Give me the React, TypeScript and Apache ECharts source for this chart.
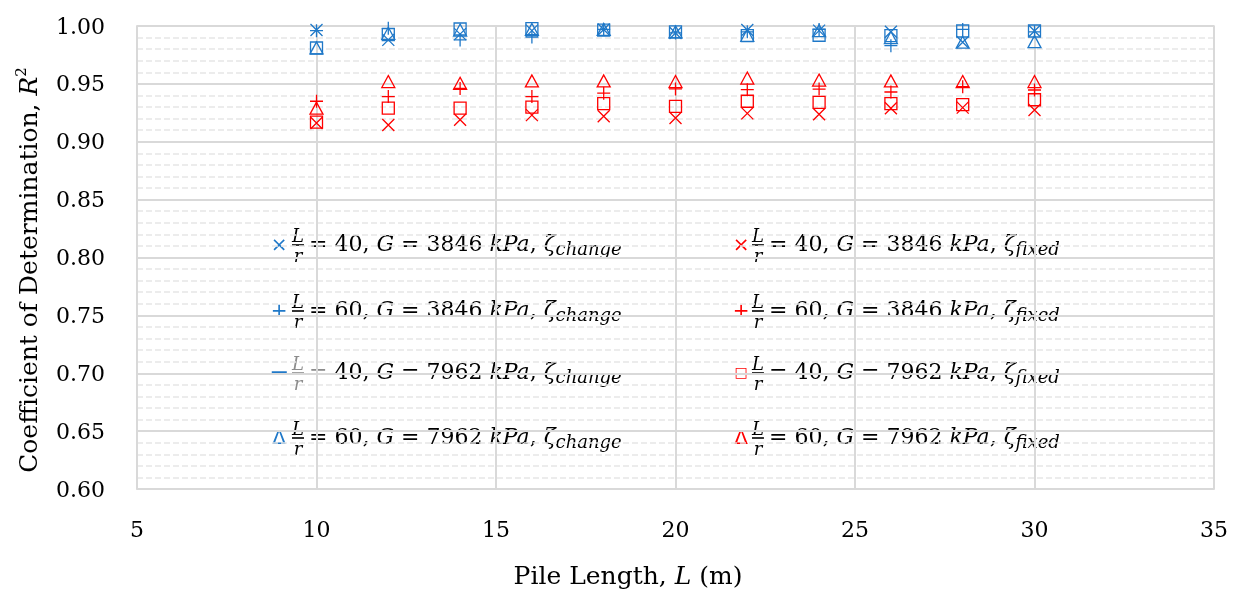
import React, { useEffect, useRef } from 'react';
import * as echarts from 'echarts';

// ---------- data ----------
const pileLength = [10, 12, 14, 16, 18, 20, 22, 24, 26, 28, 30];

// zeta_change (blue)
const changeL40G3846 = [0.9965, 0.988, 0.993, 0.996, 0.997, 0.994, 0.9965, 0.996, 0.995, 0.986, 0.9957];
const changeL60G3846 = [0.996, 0.998, 0.988, 0.9905, 0.997, 0.994, 0.995, 0.997, 0.983, 0.997, 0.995];
const changeL40G7962 = [0.981, 0.9925, 0.9974, 0.9977, 0.9965, 0.995, 0.9916, 0.992, 0.9916, 0.9957, 0.9957];
const changeL60G7962 = [0.981, 0.9937, 0.9965, 0.997, 0.997, 0.995, 0.992, 0.996, 0.99, 0.986, 0.9865];

// zeta_fixed (red)
const fixedL40G3846 = [0.9162, 0.9145, 0.919, 0.923, 0.922, 0.9205, 0.9245, 0.9237, 0.929, 0.9295, 0.9275];
const fixedL60G3846 = [0.935, 0.939, 0.946, 0.939, 0.942, 0.9456, 0.945, 0.9455, 0.943, 0.9476, 0.9447];
const fixedL40G7962 = [0.917, 0.929, 0.929, 0.93, 0.933, 0.9306, 0.935, 0.934, 0.933, 0.932, 0.9363];
const fixedL60G7962 = [0.929, 0.952, 0.9505, 0.9525, 0.9525, 0.952, 0.955, 0.9533, 0.9525, 0.952, 0.952];

const legendLr = [40, 60, 40, 60];
const legendG = [3846, 3846, 7962, 7962];
const legendSymChange = ['×', '+', '−', 'Δ'];
const legendSymFixed = ['×', '+', '□', 'Δ'];

const xMin = 5, xMax = 35, xInterval = 5;
const yMin = 0.6, yMax = 1.0, yInterval = 0.05;

const xTitle = ['Pile Length, ', 'L', ' (m)'];
const yTitle = ['Coefficient of Determination, ', 'R', '2'];

// ---------- styles ----------
const BLUE = '#1f78c8';
const RED = '#ff0000';
const GRID = '#d9d9d9';
const SERIF = '"DejaVu Serif"';

const CROSS = 'path://M0,0L10,10M10,0L0,10';
const PLUS = 'path://M5,0L5,10M0,5L10,5';
const SQUARE = 'path://M0,0L10,0L10,10L0,10Z';
const TRIANGLE = 'path://M5,0L10,9L0,9Z';

function scatter(name: string, vals: number[], color: string, symbol: string, size: number | number[]) {
  return {
    type: 'scatter',
    name,
    data: pileLength.map((x, i) => [x, vals[i]]),
    symbol,
    symbolSize: size,
    itemStyle: { color: 'rgba(0,0,0,0)', borderColor: color, borderWidth: 1.3, opacity: 1 },
    emphasis: { disabled: true },
  };
}

const eqRich = (color: string) => ({
  eq: { fontFamily: SERIF, fontSize: 22, fill: color, lineHeight: 28 },
  n: { fontFamily: SERIF, fontSize: 22, fill: '#000', lineHeight: 28 },
  i: { fontFamily: SERIF, fontStyle: 'italic', fontSize: 22, fill: '#000', lineHeight: 28 },
  s: { fontFamily: SERIF, fontStyle: 'italic', fontSize: 18, fill: '#000', lineHeight: 18, verticalAlign: 'bottom' },
});

function legendEntry(symX: number, Lx: number, eqX: number, y: number, sym: string, symColor: string,
  lr: number, g: number, sub: string, fracColor: string, symSize: number) {
  return [
    { type: 'text', x: symX, y: y - 1, style: { text: sym, fill: symColor, font: `${symSize}px "DejaVu Sans"`, align: 'center', verticalAlign: 'middle' } },
    { type: 'text', x: Lx, y: y - 1, style: { text: 'L', fill: fracColor, font: `italic 18px ${SERIF}`, align: 'center', verticalAlign: 'bottom' } },
    { type: 'line', shape: { x1: Lx - 6, y1: y, x2: Lx + 6, y2: y }, style: { stroke: fracColor, lineWidth: 1.6 } },
    { type: 'text', x: Lx, y: y + 1, style: { text: 'r', fill: fracColor, font: `italic 18px ${SERIF}`, align: 'center', verticalAlign: 'top' } },
    {
      type: 'text', x: eqX, y: y - 2,
      style: {
        text: `{eq|=}{n| ${lr}, }{i|G}{n| = ${g} }{i|kPa}{n|, }{i|ζ}{s|${sub}}`,
        rich: eqRich(fracColor), align: 'left', verticalAlign: 'middle',
      },
    },
  ];
}

export default function App() {
  const ref = useRef<HTMLDivElement>(null);
  useEffect(() => {
    if (!ref.current) return;
    const chart = echarts.init(ref.current, undefined, { renderer: 'svg' });

    const rowY = [245, 311, 373, 438];
    const legendEls: any[] = [];
    rowY.forEach((y, k) => {
      const gray = k === 2 ? '#8c8c8c' : '#000';
      legendEls.push(...legendEntry(279, 298, 309, y, legendSymChange[k], BLUE, legendLr[k], legendG[k], 'change', gray, k === 2 ? 24 : 20));
      legendEls.push(...legendEntry(741, 758, 769, y, legendSymFixed[k], RED, legendLr[k], legendG[k], 'fixed', '#000', k === 2 ? 14 : 20));
    });

    const option: any = {
      animation: false,
      grid: { left: 137, right: 22, top: 26, bottom: 104, show: true, borderColor: GRID, borderWidth: 1.5, backgroundColor: 'transparent' },
      xAxis: {
        type: 'value', min: xMin, max: xMax, interval: xInterval,
        axisLine: { show: true, lineStyle: { color: GRID, width: 1.5 } },
        axisTick: { show: false },
        axisLabel: { fontFamily: SERIF, fontSize: 22, color: '#000', margin: 29 },
        splitLine: { show: true, lineStyle: { color: GRID, width: 2 } },
      },
      yAxis: {
        type: 'value', min: yMin, max: yMax, interval: yInterval,
        axisLine: { show: true, lineStyle: { color: GRID, width: 1.5 } },
        axisTick: { show: false },
        axisLabel: { fontFamily: SERIF, fontSize: 22, color: '#000', margin: 32, formatter: (v: number) => v.toFixed(2) },
        splitLine: { show: true, lineStyle: { color: GRID, width: 2 } },
        minorTick: { show: false, splitNumber: 5 },
        minorSplitLine: { show: true, lineStyle: { color: '#e6e6e6', width: 1.5, type: [6, 3] } },
      },
      series: [
        scatter('fixed L40 G3846', fixedL40G3846, RED, CROSS, 12),
        scatter('fixed L60 G3846', fixedL60G3846, RED, PLUS, 13),
        scatter('fixed L40 G7962', fixedL40G7962, RED, SQUARE, 12),
        scatter('fixed L60 G7962', fixedL60G7962, RED, TRIANGLE, [13, 12]),
        scatter('change L40 G3846', changeL40G3846, BLUE, CROSS, 12),
        scatter('change L60 G3846', changeL60G3846, BLUE, PLUS, 13),
        scatter('change L40 G7962', changeL40G7962, BLUE, SQUARE, 12),
        scatter('change L60 G7962', changeL60G7962, BLUE, TRIANGLE, [13, 12]),
      ],
      graphic: {
        elements: [
          {
            type: 'text', x: 628, y: 575,
            style: {
              text: `{a|${xTitle[0]}}{b|${xTitle[1]}}{a|${xTitle[2]}}`,
              align: 'center', verticalAlign: 'middle',
              rich: {
                a: { fontFamily: SERIF, fontSize: 25, fill: '#000' },
                b: { fontFamily: SERIF, fontStyle: 'italic', fontSize: 25, fill: '#000' },
              },
            },
          },
          {
            type: 'text', x: 28, y: 270, rotation: Math.PI / 2,
            style: {
              text: `{a|${yTitle[0]}}{b|${yTitle[1]}}{c|${yTitle[2]}}`,
              align: 'center', verticalAlign: 'middle',
              rich: {
                a: { fontFamily: SERIF, fontSize: 25, fill: '#000', lineHeight: 30 },
                b: { fontFamily: SERIF, fontStyle: 'italic', fontSize: 25, fill: '#000', lineHeight: 30 },
                c: { fontFamily: SERIF, fontSize: 15, fill: '#000', lineHeight: 15, verticalAlign: 'top' },
              },
            },
          },
          ...legendEls,
        ],
      },
    };
    chart.setOption(option);
    return () => chart.dispose();
  }, []);
  return <div ref={ref} style={{ position: 'fixed', left: 0, top: 0, width: 1236, height: 593 }} />;
}
